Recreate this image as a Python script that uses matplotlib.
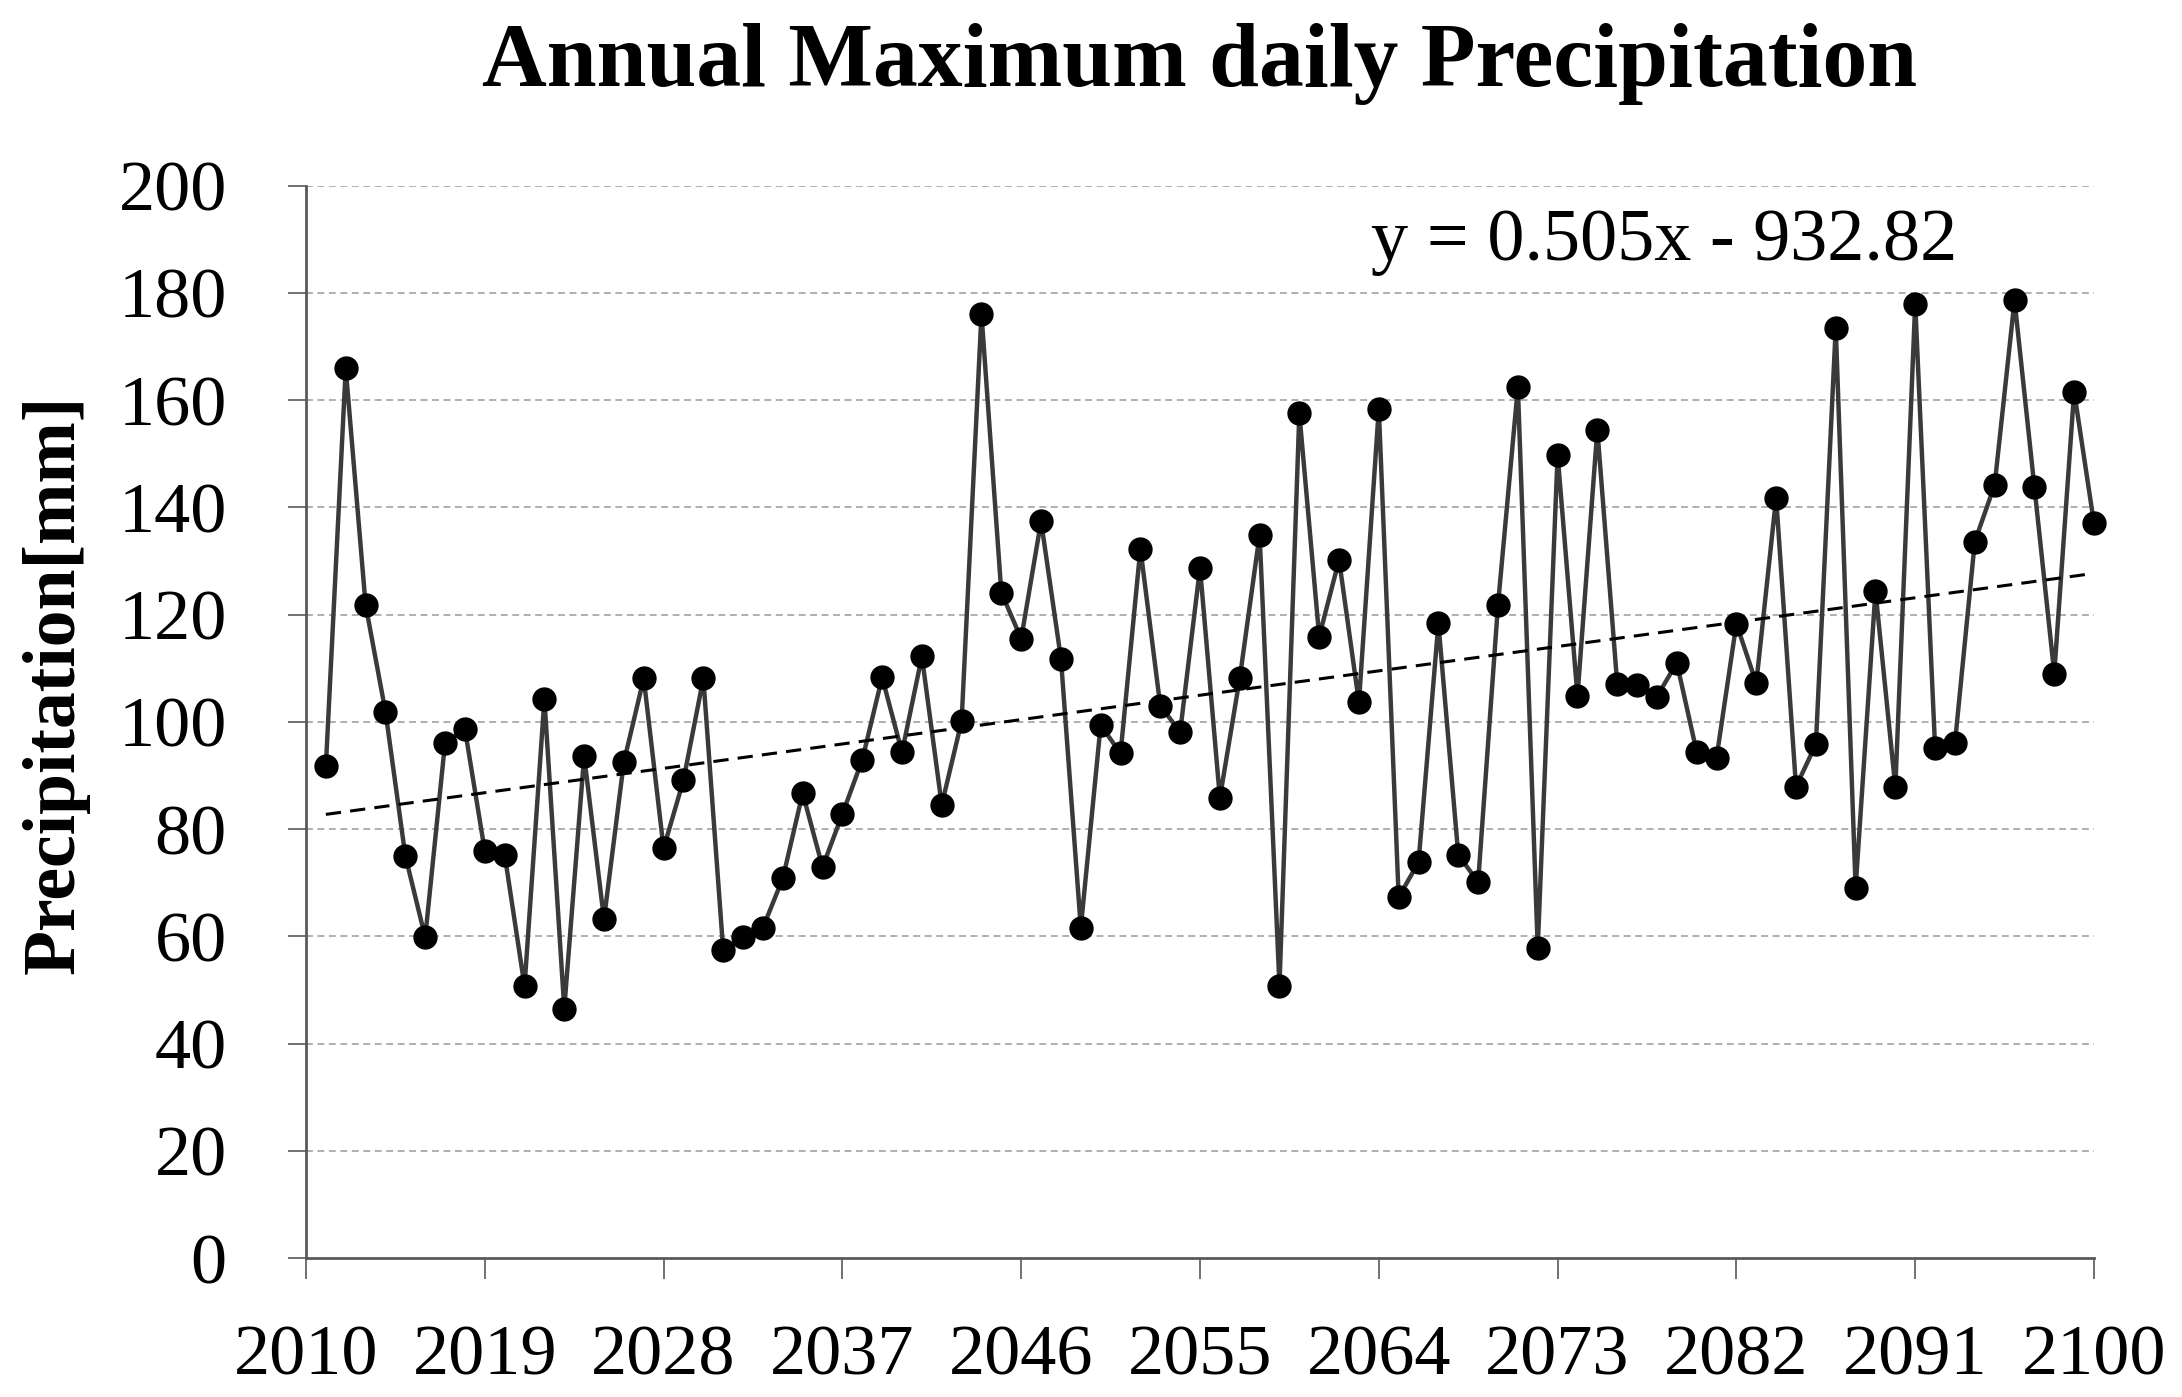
#!/usr/bin/env python3
import numpy as np
import matplotlib.pyplot as plt

# ---- data ----------------------------------------------------------------
years = list(range(2011, 2101))
precip = [
    91.7, 165.9, 121.8, 101.9, 75.0, 59.8, 96.1, 98.6, 75.9, 75.2,      # 2011-2020
    50.7, 104.2, 46.5, 93.6, 63.2, 92.5, 108.1, 76.4, 89.1, 108.1,     # 2021-2030
    57.4, 59.8, 61.6, 70.8, 86.7, 72.9, 82.8, 92.9, 108.3, 94.3,       # 2031-2040
    112.2, 84.5, 100.1, 176.1, 124.1, 115.5, 137.4, 111.8, 61.6, 99.4, # 2041-2050
    94.1, 132.3, 103.0, 98.1, 128.7, 85.8, 108.1, 134.9, 50.8, 157.5,  # 2051-2060
    115.9, 130.2, 103.6, 158.4, 67.3, 73.8, 118.4, 75.2, 70.1, 121.8,  # 2061-2070
    162.4, 57.8, 149.8, 104.8, 154.5, 107.1, 106.8, 104.7, 111.0, 94.4,  # 2071-2080
    93.3, 118.3, 107.2, 141.8, 87.9, 95.8, 173.5, 69.0, 124.4, 87.8,   # 2081-2090
    178.0, 95.2, 96.0, 133.6, 144.2, 178.6, 143.8, 109.0, 161.6, 137.0,  # 2091-2100
]
trend_slope = 0.505
trend_icpt = -932.82
xticks = list(range(2010, 2101, 9))
yticks = list(range(0, 201, 20))

# ---- plot ----------------------------------------------------------------
plt.rcParams['font.family'] = ['Liberation Serif', 'DejaVu Serif']

W, H = 2182, 1397
fig = plt.figure(figsize=(W / 100, H / 100), dpi=100)
ax = fig.add_axes([306 / W, 1 - 1258 / H, (2094 - 306) / W, (1258 - 185.6) / H])

yrs = np.array(years)
ax.plot(yrs, precip, color="#3a3a3a", lw=3.2, marker="o", ms=16.5,
        mfc="black", mec="black", zorder=3, clip_on=False)

# linear trend (Excel-style), from the fitted coefficients shown on the chart
trend = trend_slope * yrs + trend_icpt
ax.plot(yrs, trend, color="black", lw=2.2, dashes=(5, 3), zorder=4)

ax.text(2063.6, 189.5, f"y = {trend_slope}x - {abs(trend_icpt)}",
        fontsize=53.5, ha="left", va="center")

ax.set_xlim(2010, 2100)
ax.set_ylim(0, 200)
ax.set_xticks(xticks)
ax.set_yticks(yticks)
ax.tick_params(axis="x", length=15, width=1.2, color="#595959",
               pad=33, labelsize=52)
ax.tick_params(axis="y", length=13, width=1.2, color="#595959",
               pad=44, labelsize=52)

for y in yticks[1:]:
    ax.axhline(y, color="#9a9a9a", lw=1.1, dashes=(4.5, 3), zorder=1)

for s in ["top", "right"]:
    ax.spines[s].set_visible(False)
for s in ["left", "bottom"]:
    ax.spines[s].set_color("#595959")
    ax.spines[s].set_linewidth(2.0)

fig.text(1200 / W, 1 - 86 / H, "Annual Maximum daily Precipitation",
         fontsize=64.5, fontweight="bold", ha="center", va="baseline")
fig.text(56 / W, 1 - 684 / H, "Precipitation[mm]", fontsize=53,
         fontweight="bold", rotation=90, ha="center", va="center")

fig.savefig("out.png", dpi=100)
